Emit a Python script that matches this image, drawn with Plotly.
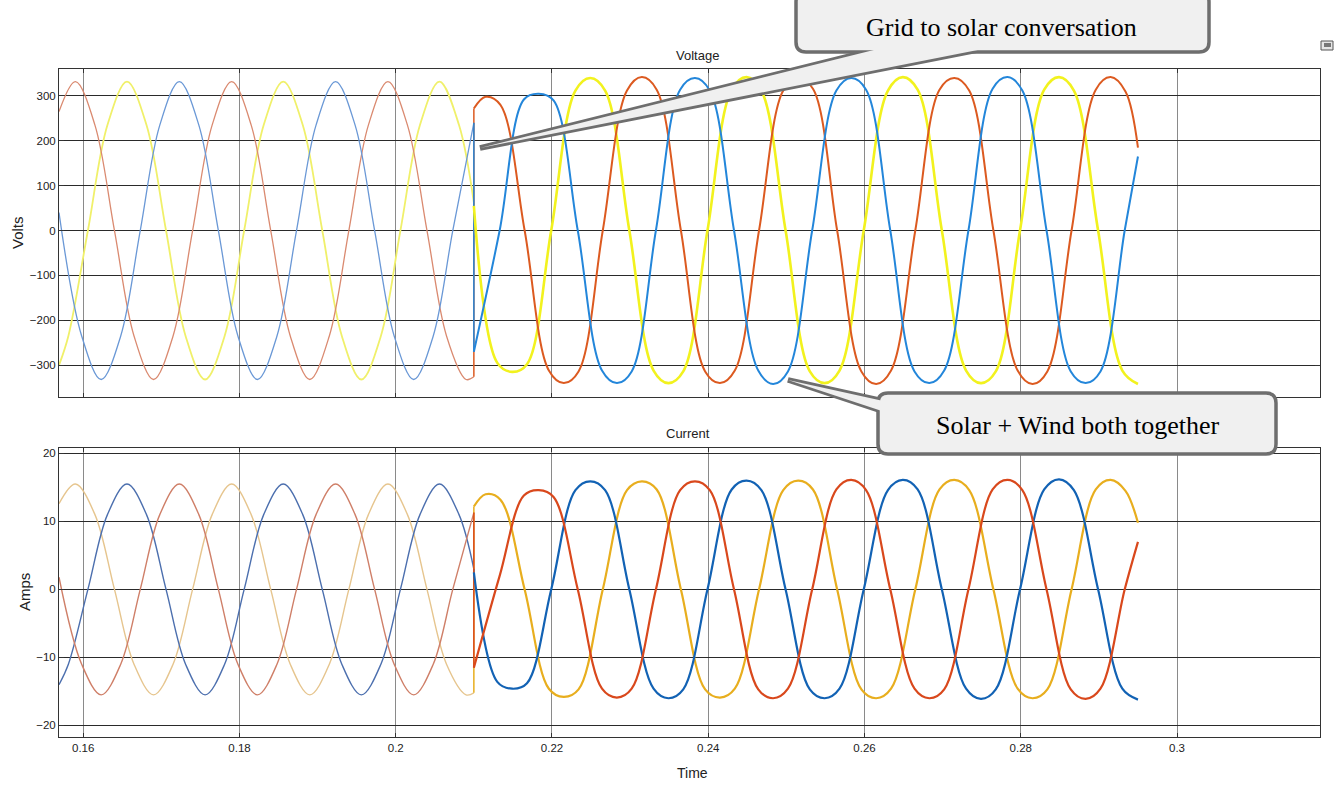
import plotly.graph_objects as go

W, H = 1339, 786

# ---------------- data ----------------
# x tick values / labels
x_ticks = [0.16, 0.18, 0.20, 0.22, 0.24, 0.26, 0.28, 0.30]
x_tick_text = ["0.16", "0.18", "0.2", "0.22", "0.24", "0.26", "0.28", "0.3"]
v_ticks = [-300, -200, -100, 0, 100, 200, 300]
i_ticks = [-20, -10, 0, 10, 20]

# ---- grid-fed section (before 0.21 s) ----
t_p1_pre = [0.1569, 0.1590, 0.1615, 0.1640, 0.1665, 0.1690, 0.1715, 0.1740, 0.1765, 0.1790, 0.1815, 0.1840,
            0.1865, 0.1890, 0.1915, 0.1940, 0.1965, 0.1990, 0.2015, 0.2040, 0.2065, 0.2090, 0.2100]
v_red_pre = [265, 332, 235, 0, -235, -332, -235, 0, 235, 332, 235, 0,
             -235, -332, -235, 0, 235, 332, 235, 0, -235, -332, -326]
i_tan_pre = [12.6, 15.5, 11.0, 0, -11.0, -15.5, -11.0, 0, 11.0, 15.5, 11.0, 0,
             -11.0, -15.5, -11.0, 0, 11.0, 15.5, 11.0, 0, -11.0, -15.5, -15.2]

t_p2_pre = [0.1569, 0.1581, 0.1606, 0.1631, 0.1656, 0.1681, 0.1706, 0.1731, 0.1756, 0.1781, 0.1806, 0.1831,
            0.1856, 0.1881, 0.1906, 0.1931, 0.1956, 0.1981, 0.2006, 0.2031, 0.2056, 0.2081, 0.2100]
v_yel_pre = [-300, -235, 0, 235, 332, 235, 0, -235, -332, -235, 0, 235,
             332, 235, 0, -235, -332, -235, 0, 235, 332, 235, 62]
i_blu_pre = [-14.0, -11.0, 0, 11.0, 15.5, 11.0, 0, -11.0, -15.5, -11.0, 0, 11.0,
             15.5, 11.0, 0, -11.0, -15.5, -11.0, 0, 11.0, 15.5, 11.0, 3.0]

t_p3_pre = [0.1569, 0.1598, 0.1623, 0.1648, 0.1673, 0.1698, 0.1723, 0.1748, 0.1773, 0.1798, 0.1823,
            0.1848, 0.1873, 0.1898, 0.1923, 0.1948, 0.1973, 0.1998, 0.2023, 0.2048, 0.2073, 0.2100]
v_blu_pre = [40, -235, -332, -235, 0, 235, 332, 235, 0, -235, -332,
             -235, 0, 235, 332, 235, 0, -235, -332, -235, 0, 240]
i_red_pre = [1.8, -11.0, -15.5, -11.0, 0, 11.0, 15.5, 11.0, 0, -11.0, -15.5,
             -11.0, 0, 11.0, 15.5, 11.0, 0, -11.0, -15.5, -11.0, 0, 11.3]

# ---- solar + wind section (after 0.21 s) ----
t_R_post = [0.2100, 0.2115, 0.2134, 0.2165, 0.2196, 0.2215, 0.2234, 0.2265, 0.2296, 0.2315, 0.2334, 0.2365,
            0.2396, 0.2415, 0.2434, 0.2465, 0.2496, 0.2515, 0.2534, 0.2565, 0.2596, 0.2615, 0.2634, 0.2665,
            0.2696, 0.2715, 0.2734, 0.2765, 0.2796, 0.2815, 0.2834, 0.2865, 0.2896, 0.2915, 0.2934, 0.2950]
v_red_post = [272, 298, 280, 0, -312, -340, -314, 0, 312, 342, 314, 0,
              -314, -340, -312, 0, 312, 340, 316, 0, -314, -342, -312, 0,
              314, 340, 312, 0, -312, -342, -314, 0, 314, 342, 310, 185]
i_tan_post = [12.2, 14.0, 13.2, 0, -14.6, -15.8, -14.7, 0, 14.6, 15.9, 14.7, 0,
              -14.7, -15.9, -14.6, 0, 14.6, 16.0, 14.7, 0, -14.7, -16.0, -14.6, 0,
              14.7, 16.1, 14.6, 0, -14.6, -16.0, -14.7, 0, 14.7, 16.1, 14.5, 9.8]

t_B_post = [0.2100, 0.2133, 0.2164, 0.2183, 0.2202, 0.2233, 0.2264, 0.2283, 0.2302, 0.2333, 0.2364, 0.2383,
            0.2402, 0.2433, 0.2464, 0.2483, 0.2502, 0.2533, 0.2564, 0.2583, 0.2602, 0.2633, 0.2664, 0.2683,
            0.2702, 0.2733, 0.2764, 0.2783, 0.2802, 0.2833, 0.2864, 0.2883, 0.2902, 0.2933, 0.2950]
v_blu_post = [-270, 0, 292, 305, 290, 0, -312, -340, -314, 0, 314, 340,
              312, 0, -312, -342, -314, 0, 312, 340, 314, 0, -314, -340,
              -312, 0, 316, 342, 312, 0, -314, -340, -314, 0, 165]
i_red_post = [-11.5, 2.0, 13.8, 14.6, 13.6, 0, -14.6, -15.9, -14.6, 0, 14.6, 15.9,
              14.6, 0, -14.7, -16.0, -14.6, 0, 14.7, 16.1, 14.6, 0, -14.6, -16.0,
              -14.7, 0, 14.7, 16.1, 14.6, 0, -14.7, -16.1, -14.6, 0, 7.0]

t_Y_post = [0.2100, 0.2130, 0.2149, 0.2168, 0.2199, 0.2230, 0.2249, 0.2268, 0.2299, 0.2330, 0.2349, 0.2368,
            0.2399, 0.2430, 0.2449, 0.2468, 0.2499, 0.2530, 0.2549, 0.2568, 0.2599, 0.2630, 0.2649, 0.2668,
            0.2699, 0.2730, 0.2749, 0.2768, 0.2799, 0.2830, 0.2849, 0.2868, 0.2899, 0.2930, 0.2950]
v_yel_post = [55, -295, -315, -298, 0, 312, 340, 312, 0, -312, -340, -314,
              0, 314, 342, 312, 0, -314, -340, -312, 0, 312, 342, 314,
              0, -312, -340, -314, 0, 314, 342, 312, 0, -312, -342]
i_blu_post = [2.5, -13.6, -14.6, -13.8, 0, 14.6, 15.9, 14.6, 0, -14.6, -16.0, -14.7,
              0, 14.7, 16.0, 14.6, 0, -14.7, -16.0, -14.6, 0, 14.6, 16.1, 14.7,
              0, -14.6, -16.1, -14.7, 0, 14.7, 16.2, 14.6, 0, -14.6, -16.2]

# ---------------- figure ----------------
fig = go.Figure()


def wave(t, v, xa, ya, color, width):
    fig.add_trace(go.Scatter(x=t, y=v, mode="lines", xaxis=xa, yaxis=ya,
                             line=dict(color=color, width=width, shape="spline", smoothing=1),
                             hoverinfo="skip", showlegend=False))


def jump(t_a, v_a, t_b, v_b, xa, ya, color, width):
    fig.add_trace(go.Scatter(x=[t_a[-1], t_b[0]], y=[v_a[-1], v_b[0]], mode="lines", xaxis=xa, yaxis=ya,
                             line=dict(color=color, width=width), hoverinfo="skip", showlegend=False))


# voltage (top panel)
VRED, VYEL, VBLU = "#DC5A20", "#F2F21E", "#2386DA"
VRED_P, VYEL_P, VBLU_P = "#DA8A70", "#F0F06A", "#6A98D6"
wave(t_p2_pre, v_yel_pre, "x2", "y2", VYEL_P, 1.8)
wave(t_p1_pre, v_red_pre, "x2", "y2", VRED_P, 1.3)
wave(t_p3_pre, v_blu_pre, "x2", "y2", VBLU_P, 1.3)
jump(t_p2_pre, v_yel_pre, t_Y_post, v_yel_post, "x2", "y2", VYEL, 1.5)
jump(t_p1_pre, v_red_pre, t_R_post, v_red_post, "x2", "y2", VRED, 1.5)
jump(t_p3_pre, v_blu_pre, t_B_post, v_blu_post, "x2", "y2", VBLU, 1.5)
wave(t_Y_post, v_yel_post, "x2", "y2", VYEL, 2.6)
wave(t_R_post, v_red_post, "x2", "y2", VRED, 2.0)
wave(t_B_post, v_blu_post, "x2", "y2", VBLU, 2.0)

# current (bottom panel)
ITAN, IBLU, IRED = "#E8AE1E", "#1262B4", "#D9481C"
ITAN_P, IBLU_P, IRED_P = "#E6C58E", "#4C6FAE", "#CF7F68"
wave(t_p1_pre, i_tan_pre, "x", "y", ITAN_P, 1.4)
wave(t_p2_pre, i_blu_pre, "x", "y", IBLU_P, 1.4)
wave(t_p3_pre, i_red_pre, "x", "y", IRED_P, 1.4)
jump(t_p1_pre, i_tan_pre, t_R_post, i_tan_post, "x", "y", ITAN, 1.5)
jump(t_p2_pre, i_blu_pre, t_Y_post, i_blu_post, "x", "y", IBLU, 1.5)
jump(t_p3_pre, i_red_pre, t_B_post, i_red_post, "x", "y", IRED, 1.5)
wave(t_R_post, i_tan_post, "x", "y", ITAN, 2.2)
wave(t_Y_post, i_blu_post, "x", "y", IBLU, 2.2)
wave(t_B_post, i_red_post, "x", "y", IRED, 2.2)

# ---------------- layout ----------------
X = lambda p: p / W
Y = lambda p: 1 - p / H

tick_font = dict(family="Liberation Sans, Arial, sans-serif", size=11.5, color="#222222")
common_x = dict(range=[0.1569, 0.3183], tickvals=x_ticks, ticktext=x_tick_text, showgrid=True,
                gridcolor="#8a8a8a", gridwidth=1, ticks="inside", ticklen=4, tickcolor="#333333",
                showline=True, linecolor="#333333", linewidth=1, mirror="ticks", zeroline=False,
                automargin=False, domain=[X(59), X(1320)], tickfont=tick_font)
common_y = dict(showgrid=True, gridcolor="#2a2a2a", gridwidth=1.2, ticks="inside", ticklen=5,
                tickcolor="#333333", showline=True, linecolor="#333333", linewidth=1, mirror="ticks",
                zeroline=False, automargin=False, tickfont=tick_font)

fig.update_layout(
    width=W, height=H, margin=dict(l=0, r=0, t=0, b=0),
    paper_bgcolor="white", plot_bgcolor="white", showlegend=False,
    xaxis=dict(common_x, anchor="y"),
    xaxis2=dict(common_x, anchor="y2", matches="x", showticklabels=False),
    yaxis=dict(common_y, domain=[Y(737), Y(448)], range=[-21.7, 20.8], tickvals=i_ticks, anchor="x"),
    yaxis2=dict(common_y, domain=[Y(397), Y(69)], range=[-371, 360], tickvals=v_ticks, anchor="x2"),
)

lab_font = dict(family="Liberation Sans, Arial, sans-serif", color="#222222")
annots = [
    dict(x=X(697), y=Y(56), text="Voltage", font=dict(lab_font, size=13)),
    dict(x=X(688), y=Y(433), text="Current", font=dict(lab_font, size=13)),
    dict(x=X(18), y=Y(233), text="Volts", textangle=-90, font=dict(lab_font, size=15)),
    dict(x=X(24), y=Y(592), text="Amps", textangle=-90, font=dict(lab_font, size=15)),
    dict(x=X(693), y=Y(773), text="Time", font=dict(lab_font, size=14)),
    dict(x=X(1001), y=Y(27), text="Grid to solar conversation",
         font=dict(family="Liberation Serif, Times New Roman, serif", size=26, color="#000000")),
    dict(x=X(1078), y=Y(425), text="Solar + Wind both together",
         font=dict(family="Liberation Serif, Times New Roman, serif", size=26, color="#000000")),
]
for a in annots:
    a.update(xref="paper", yref="paper", showarrow=False, xanchor="center", yanchor="middle")
fig.update_layout(annotations=annots)


def rrect(x0, y0, x1, y1, r):
    return (f"M {X(x0 + r)},{Y(y0)} L {X(x1 - r)},{Y(y0)} Q {X(x1)},{Y(y0)} {X(x1)},{Y(y0 + r)} "
            f"L {X(x1)},{Y(y1 - r)} Q {X(x1)},{Y(y1)} {X(x1 - r)},{Y(y1)} "
            f"L {X(x0 + r)},{Y(y1)} Q {X(x0)},{Y(y1)} {X(x0)},{Y(y1 - r)} "
            f"L {X(x0)},{Y(y0 + r)} Q {X(x0)},{Y(y0)} {X(x0 + r)},{Y(y0)} Z")


def poly(pts):
    return "M " + " L ".join(f"{X(a)},{Y(b)}" for a, b in pts) + " Z"


BOX_FILL, BOX_LINE = "#F0F0F0", "#6E6E6E"
wedge1 = [(480, 148), (890, 46), (998, 46)]
wedge2 = [(788, 380), (897, 404), (897, 416)]
shapes = []
for wdg, box in [(wedge1, (796, -8, 1209, 52)), (wedge2, (878, 393, 1276, 454))]:
    shapes.append(dict(type="path", path=poly(wdg), fillcolor=BOX_FILL, line=dict(color=BOX_LINE, width=5.5)))
    shapes.append(dict(type="path", path=rrect(*box, 10), fillcolor=BOX_FILL, line=dict(color=BOX_LINE, width=3.5)))
    shapes.append(dict(type="path", path=poly(wdg), fillcolor=BOX_FILL, line=dict(width=0)))
# small window icon at top right
shapes.append(dict(type="rect", x0=X(1321), x1=X(1333), y0=Y(50), y1=Y(41), fillcolor="#E6E6E6",
                   line=dict(color="#555555", width=1)))
shapes.append(dict(type="rect", x0=X(1324), x1=X(1331), y0=Y(47), y1=Y(43), fillcolor="#777777",
                   line=dict(width=0)))
for s in shapes:
    s.update(xref="paper", yref="paper", layer="above")
fig.update_layout(shapes=shapes)

fig.write_html("out.html")
